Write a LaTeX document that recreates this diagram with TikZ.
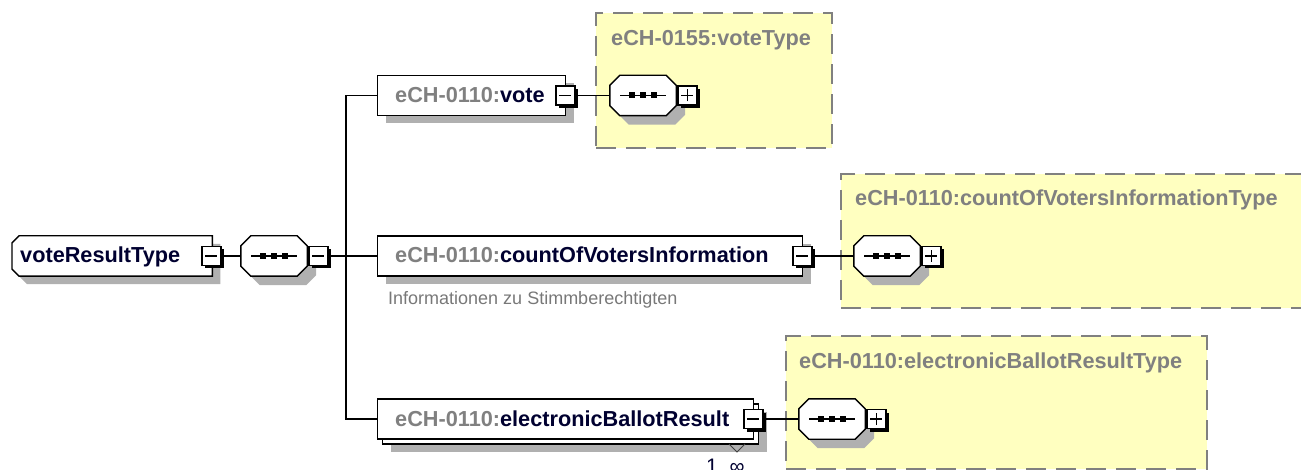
\documentclass[tikz,border=0pt]{standalone}
\usepackage{fontspec}
\setmainfont{Liberation Sans}
\usetikzlibrary{shadows}
\definecolor{shd}{RGB}{176,176,176}
\definecolor{yel}{RGB}{255,255,192}
\definecolor{bordergray}{RGB}{128,128,128}
\definecolor{pre}{RGB}{128,128,128}
\definecolor{nm}{RGB}{0,0,48}
\definecolor{capgray}{RGB}{120,120,120}
% octagon (all corners cut) around a node
\newcommand\octpath[1]{([xshift=10pt]#1.north west) -- ([xshift=-10pt]#1.north east) -- ([yshift=-10pt]#1.north east) -- ([yshift=10pt]#1.south east) -- ([xshift=-10pt]#1.south east) -- ([xshift=10pt]#1.south west) -- ([yshift=10pt]#1.south west) -- ([yshift=-10pt]#1.north west) -- cycle}
% left corners cut
\newcommand\lcutpath[1]{([xshift=7pt]#1.north west) -- (#1.north east) -- (#1.south east) -- ([xshift=7pt]#1.south west) -- ([yshift=7pt]#1.south west) -- ([yshift=-7pt]#1.north west) -- cycle}
\newcommand\seqcomp[3]{%
  \node[cbox] (#1) at (#2,#3) {};
  \fill[shd, transform canvas={shift={(9pt,-9pt)}}] \octpath{#1};
  \filldraw[fill=white, draw=black, line width=1.4pt] \octpath{#1};
  \draw[line width=1.4pt] ([xshift=-23pt]#1.center) -- ([xshift=23pt]#1.center);
  \foreach \dx in {-11,0,11} {\fill ([xshift=\dx pt]#1.center) +(-3pt,-3pt) rectangle +(3pt,3pt);}
}
\begin{document}
\begin{tikzpicture}[x=1pt,y=-1pt,
  typebox/.style={rectangle, draw=bordergray, fill=yel, line width=2pt, dash pattern=on 20pt off 10pt, inner sep=0pt, anchor=north west},
  elem/.style={rectangle, draw=black, fill=white, line width=1.4pt, minimum height=40pt, inner sep=0pt, anchor=west, drop shadow={shadow xshift=8pt, shadow yshift=-8pt, fill=shd, opacity=1}},
  elemns/.style={rectangle, draw=black, fill=white, line width=1.4pt, minimum height=40pt, inner sep=0pt, anchor=west},
  cbox/.style={rectangle, draw=none, minimum width=66pt, minimum height=40pt, inner sep=0pt},
  tog/.style={rectangle, draw=black, fill=white, line width=1.3pt, minimum size=19pt, inner sep=0pt, drop shadow={shadow xshift=3pt, shadow yshift=-3pt, fill=black, opacity=1}},
  minus/.style={tog, path picture={\draw[line width=1.3pt] ([xshift=-6pt]path picture bounding box.center) -- ([xshift=6pt]path picture bounding box.center);}},
  plus/.style={tog, path picture={\draw[line width=1.3pt] ([xshift=-6pt]path picture bounding box.center) -- ([xshift=6pt]path picture bounding box.center) ([yshift=-6pt]path picture bounding box.center) -- ([yshift=6pt]path picture bounding box.center);}},
  lbl/.style={inner sep=0pt, anchor=base west, font=\fontsize{21.7}{26}\selectfont\bfseries, text=nm},
  ttl/.style={inner sep=0pt, anchor=base west, font=\fontsize{21.7}{26}\selectfont\bfseries, text=pre},
  captxt/.style={inner sep=0pt, anchor=base west, font=\fontsize{18}{22}\selectfont, text=capgray},
  conn/.style={draw=black, line width=1.4pt}
]
\useasboundingbox (0,0) rectangle (1301,470);

% type boxes
\node[typebox, minimum width=236pt, minimum height=135pt] (vt) at (595,12) {};
\node[typebox, minimum width=480pt, minimum height=134pt] (ct) at (840,173) {};
\node[typebox, minimum width=421pt, minimum height=133pt] (et) at (785,335) {};
\node[ttl] (vtt) at (611,46) {eCH-0155:voteType};
\node[ttl] (ctt) at (855,206) {eCH-0110:countOfVotersInformationType};
\node[ttl] (ett) at (799,368) {eCH-0110:electronicBallotResultType};

% root element
\node[cbox, minimum width=200pt, anchor=west] (vrt) at (12,256) {};
\fill[shd, transform canvas={shift={(8pt,-8pt)}}] \lcutpath{vrt};
\filldraw[fill=white, draw=black, line width=1.4pt] \lcutpath{vrt};
\node[lbl] (vrtl) at (20,263) {voteResultType};
\node[minus] (tg0) at ([xshift=-1pt]vrt.east) {};

% main sequence
\seqcomp{c1}{274}{256}
\node[minus, anchor=west] (tg1) at ([xshift=1pt]c1.east) {};

% child elements
\node[elem, minimum width=188pt] (vote) at (377,95.5) {};
\node[lbl] (votel) at (395,102.5) {{\color{pre}eCH-0110:}vote};
\node[minus] (tgv) at ([xshift=-1pt]vote.east) {};

\node[elem, minimum width=425pt] (count) at (377,256) {};
\node[lbl] (countl) at (395,263) {{\color{pre}eCH-0110:}countOfVotersInformation};
\node[minus] (tgc) at ([xshift=-1pt]count.east) {};
\node[captxt] (countc) at (388,305) {Informationen zu Stimmberechtigten};

\node[elem, minimum width=376pt] (elecb) at (382,424) {};
\node[elemns, minimum width=376pt] (elec) at (377,419) {};
\node[lbl] (elecl) at (395,426) {{\color{pre}eCH-0110:}electronicBallotResult};
\node[minus] (tge) at ([xshift=-1pt]elec.east) {};
\coordinate (tri) at (737,452);
\draw[line width=1pt, draw=black!75] ([xshift=-8pt,yshift=8pt]tri) -- (tri) -- ([xshift=8pt,yshift=8pt]tri);
\node[inner sep=0pt, anchor=base west, font=\fontsize{21}{25}\selectfont, text=nm] (occ) at (706,473) {1..∞};

% type content sequences
\seqcomp{cv}{643}{95.5}
\node[plus, anchor=west] (tpv) at ([xshift=1pt]cv.east) {};
\seqcomp{cc}{887}{256}
\node[plus, anchor=west] (tpc) at ([xshift=1pt]cc.east) {};
\seqcomp{ce}{832}{419}
\node[plus, anchor=west] (tpe) at ([xshift=1pt]ce.east) {};

% connectors
\coordinate (bus) at (346,256);
\draw[conn] (tg0.east) -- (c1.west);
\draw[conn] (tg1.east) -- (bus);
\draw[conn] (vote.west) -- (vote.west -| bus) -- (elec.west -| bus) -- (elec.west);
\draw[conn] (bus) -- (count.west);
\draw[conn] (tgv.east) -- (cv.west);
\draw[conn] (tgc.east) -- (cc.west);
\draw[conn] (tge.east) -- (ce.west);
\end{tikzpicture}
\end{document}
